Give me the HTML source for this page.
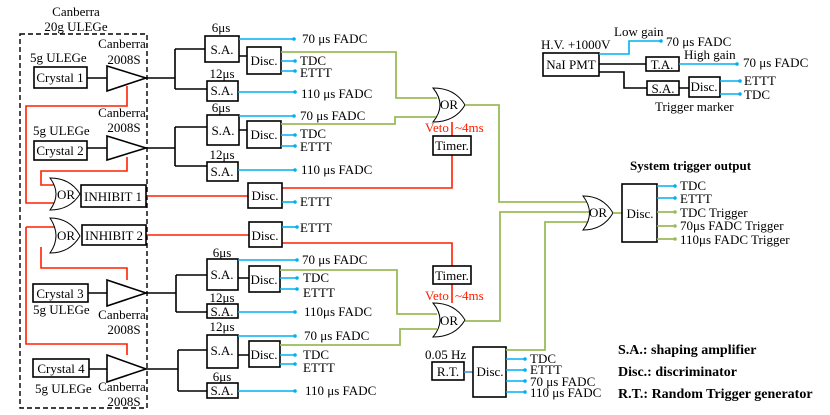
<!DOCTYPE html>
<html><head><meta charset="utf-8"><style>
html,body{margin:0;padding:0;background:#fff;}
svg{display:block;}
text{font-family:"Liberation Serif",serif;font-size:13px;fill:#000;}
.b{fill:none;stroke:#000;stroke-width:1.6;}
.bx{fill:#fff;stroke:#000;stroke-width:1.6;}
.bl{fill:none;stroke:#00b0f0;stroke-width:1.6;}
.g{fill:none;stroke:#9bbb59;stroke-width:1.8;}
.r{fill:none;stroke:#ff2000;stroke-width:1.6;}
.d{fill:#00b0f0;}
.dg{fill:#9bbb59;}
.or{fill:#fff;stroke:#000;stroke-width:1;}
.lg{font-weight:bold;font-size:14px;}
</style></head><body>
<svg width="830" height="415" viewBox="0 0 830 415" xmlns="http://www.w3.org/2000/svg">
<rect x="20" y="34" width="127" height="374" fill="none" stroke="#000" stroke-width="1.4" stroke-dasharray="5,3"/>
<text x="76" y="16" text-anchor="middle">Canberra</text>
<text x="76" y="31" text-anchor="middle">20g ULEGe</text>

<path class="r" d="M127,86 V106 H26 V203 H55"/>
<path class="r" d="M127,157 V171 H41 V185 H55"/>
<path class="r" d="M26,227 H55 M26,227 V344 H127 V355"/>
<path class="r" d="M41,247 V268 H127 V280"/>
<path class="r" d="M146,196 H248 M282,188 H452 V155 M452,122 V136"/>
<path class="r" d="M146,235 H249 M282,243 H452 V266 M452,284 V303"/>

<text x="30" y="62">5g ULEGe</text>
<rect class="bx" x="34" y="67" width="53" height="21"/><text x="60" y="82" text-anchor="middle">Crystal 1</text>
<path class="b" d="M87,78 H107"/>
<path class="bx" d="M107,66 L146,78 L107,91 Z"/>
<text x="122" y="48" text-anchor="middle">Canberra</text><text x="124" y="64" text-anchor="middle">2008S</text>
<path class="b" d="M146,78 H175 M175,49 V89 M175,49 H205 M175,89 H207 M239,56 H247"/>
<rect class="bx" x="205" y="36" width="34" height="26"/><text x="222" y="54" text-anchor="middle">S.A.</text><text x="221" y="32" text-anchor="middle">6μs</text>
<rect class="bx" x="207" y="81" width="31" height="20"/><text x="222" y="95" text-anchor="middle">S.A.</text><text x="222" y="78" text-anchor="middle">12μs</text>
<rect class="bx" x="247" y="47" width="34" height="27"/><text x="264" y="65" text-anchor="middle">Disc.</text>
<path class="bl" d="M239,39 H293 M281,61 H295 M281,71 H295 M238,92 H295"/>
<circle class="d" cx="294" cy="39" r="1.8"/><circle class="d" cx="295" cy="61" r="1.8"/><circle class="d" cx="295" cy="71" r="1.8"/><circle class="d" cx="295" cy="92" r="1.8"/>
<text x="302" y="43">70 μs FADC</text><text x="300" y="65">TDC</text><text x="300" y="77">ETTT</text><text x="301" y="98">110 μs FADC</text>
<path class="g" d="M281,52 H396 V98 H437"/>

<text x="33" y="135">5g ULEGe</text>
<rect class="bx" x="34" y="141" width="53" height="19"/><text x="60" y="155" text-anchor="middle">Crystal 2</text>
<path class="b" d="M87,148 H107"/>
<path class="bx" d="M107,136 L146,148 L107,160 Z"/>
<text x="122" y="117" text-anchor="middle">Canberra</text><text x="124" y="132" text-anchor="middle">2008S</text>
<path class="b" d="M146,148 H175 M175,127 V166 M175,127 H207 M175,166 H207 M239,130 H247"/>
<rect class="bx" x="207" y="115" width="32" height="30"/><text x="223" y="135" text-anchor="middle">S.A.</text><text x="221" y="112" text-anchor="middle">6μs</text>
<rect class="bx" x="207" y="162" width="31" height="19"/><text x="222" y="176" text-anchor="middle">S.A.</text><text x="222" y="159" text-anchor="middle">12μs</text>
<rect class="bx" x="247" y="121" width="34" height="27"/><text x="264" y="139" text-anchor="middle">Disc.</text>
<path class="bl" d="M239,116 H293 M281,135 H295 M281,146 H295 M238,170 H295"/>
<circle class="d" cx="294" cy="116" r="1.8"/><circle class="d" cx="295" cy="135" r="1.8"/><circle class="d" cx="295" cy="146" r="1.8"/><circle class="d" cx="295" cy="170" r="1.8"/>
<text x="300" y="120">70 μs FADC</text><text x="300" y="138">TDC</text><text x="300" y="151">ETTT</text><text x="301" y="174">110 μs FADC</text>
<path class="g" d="M281,124 H395 V117 H437"/>

<path class="or" d="M50,178 Q70,178 80,194 Q70,210 50,210 Q62,194 50,178 Z"/><text x="66" y="199" text-anchor="middle">OR</text>
<rect class="bx" x="81" y="185" width="65" height="22"/><text x="113" y="201" text-anchor="middle">INHIBIT 1</text>
<rect class="bx" x="248" y="183" width="34" height="25"/><text x="265" y="200" text-anchor="middle">Disc.</text>
<path class="bl" d="M282,202 H295"/><circle class="d" cx="295" cy="202" r="1.8"/><text x="300" y="206">ETTT</text>

<path class="or" d="M50,218 Q70,218 80,236 Q70,253 50,253 Q62,236 50,218 Z"/><text x="66" y="240" text-anchor="middle">OR</text>
<rect class="bx" x="82" y="225" width="64" height="20"/><text x="114" y="240" text-anchor="middle">INHIBIT 2</text>
<rect class="bx" x="249" y="222" width="33" height="25"/><text x="265" y="240" text-anchor="middle">Disc.</text>
<path class="bl" d="M282,227 H297"/><circle class="d" cx="297" cy="227" r="1.8"/><text x="300" y="232">ETTT</text>

<rect class="bx" x="33" y="284" width="55" height="18"/><text x="60" y="298" text-anchor="middle">Crystal 3</text>
<text x="33" y="314">5g ULEGe</text>
<path class="b" d="M88,293 H107"/>
<path class="bx" d="M107,280 L146,293 L107,306 Z"/>
<text x="122" y="319" text-anchor="middle">Canberra</text><text x="124" y="334" text-anchor="middle">2008S</text>
<path class="b" d="M146,293 H176 M176,275 V312 M176,275 H207 M176,312 H207 M238,278 H249"/>
<rect class="bx" x="207" y="259" width="31" height="31"/><text x="222" y="279" text-anchor="middle">S.A.</text><text x="222" y="257" text-anchor="middle">6μs</text>
<rect class="bx" x="207" y="304" width="31" height="14"/><text x="222" y="316" text-anchor="middle">S.A.</text><text x="222" y="302" text-anchor="middle">12μs</text>
<rect class="bx" x="249" y="266" width="31" height="26"/><text x="264" y="284" text-anchor="middle">Disc.</text>
<path class="bl" d="M238,260 H297 M280,278 H297 M280,289 H297 M238,312 H295"/>
<circle class="d" cx="297" cy="260" r="1.8"/><circle class="d" cx="297" cy="278" r="1.8"/><circle class="d" cx="297" cy="289" r="1.8"/><circle class="d" cx="295" cy="312" r="1.8"/>
<text x="302" y="264">70 μs FADC</text><text x="303" y="282">TDC</text><text x="303" y="297">ETTT</text><text x="304" y="316">110μs FADC</text>
<path class="g" d="M280,270 H397 V314 H437"/>

<rect class="bx" x="33" y="359" width="56" height="18"/><text x="61" y="373" text-anchor="middle">Crystal 4</text>
<text x="35" y="393">5g ULEGe</text>
<path class="b" d="M89,369 H107"/>
<path class="bx" d="M107,355 L146,369 L107,382 Z"/>
<text x="122" y="391" text-anchor="middle">Canberra</text><text x="124" y="406" text-anchor="middle">2008S</text>
<path class="b" d="M146,369 H178 M178,350 V391 M178,350 H207 M178,391 H207 M238,355 H249"/>
<rect class="bx" x="207" y="335" width="31" height="33"/><text x="222" y="355" text-anchor="middle">S.A.</text><text x="222" y="331" text-anchor="middle">12μs</text>
<rect class="bx" x="207" y="383" width="31" height="15"/><text x="222" y="395" text-anchor="middle">S.A.</text><text x="222" y="381" text-anchor="middle">6μs</text>
<rect class="bx" x="249" y="341" width="31" height="26"/><text x="264" y="359" text-anchor="middle">Disc.</text>
<path class="bl" d="M238,336 H295 M280,355 H295 M280,364 H295 M238,391 H295"/>
<circle class="d" cx="295" cy="336" r="1.8"/><circle class="d" cx="295" cy="355" r="1.8"/><circle class="d" cx="295" cy="364" r="1.8"/><circle class="d" cx="295" cy="391" r="1.8"/>
<text x="304" y="340">70 μs FADC</text><text x="303" y="359">TDC</text><text x="303" y="372">ETTT</text><text x="305" y="395">110 μs FADC</text>
<path class="g" d="M280,345 H400 V329 H437"/>

<path class="or" d="M433,88 Q455,88 465,105 Q455,122 433,122 Q447,105 433,88 Z"/><text x="449" y="109" text-anchor="middle">OR</text>
<text x="425" y="132" style="fill:#ff2000">Veto</text><text x="455" y="132" style="fill:#ff2000">~4ms</text>
<rect class="bx" x="433" y="136" width="38" height="19"/><text x="452" y="150" text-anchor="middle">Timer.</text>
<path class="g" d="M465,105 H499 V202 H588"/>

<rect class="bx" x="433" y="266" width="38" height="18"/><text x="452" y="280" text-anchor="middle">Timer.</text>
<text x="425" y="300" style="fill:#ff2000">Veto</text><text x="455" y="300" style="fill:#ff2000">~4ms</text>
<path class="or" d="M433,303 Q455,303 465,320 Q455,337 433,337 Q447,320 433,303 Z"/><text x="449" y="325" text-anchor="middle">OR</text>
<path class="g" d="M465,321 H500 V212 H590"/>

<text x="425" y="359">0.05 Hz</text>
<rect class="bx" x="432" y="362" width="32" height="18"/><text x="448" y="376" text-anchor="middle">R.T.</text>
<path d="M464,372 H473" stroke="#4a90d0" stroke-width="1.6"/>
<rect class="bx" x="473" y="347" width="33" height="50"/><text x="490" y="376" text-anchor="middle">Disc.</text>
<path class="g" d="M506,350 H545 V222 H588"/>
<path class="bl" d="M506,359 H525 M506,370 H525 M506,381 H525 M506,392 H525"/>
<circle class="d" cx="525" cy="359" r="1.8"/><circle class="d" cx="525" cy="370" r="1.8"/><circle class="d" cx="525" cy="381" r="1.8"/><circle class="d" cx="525" cy="392" r="1.8"/>
<text x="530" y="363">TDC</text><text x="530" y="374">ETTT</text><text x="530" y="386">70 μs FADC</text><text x="530" y="397">110 μs FADC</text>

<path class="or" d="M583,196 Q603,196 613,213 Q603,230 583,230 Q596,213 583,196 Z"/><text x="598" y="217" text-anchor="middle">OR</text>
<path class="g" d="M613,213 H622"/>
<rect class="bx" x="622" y="184" width="35" height="58"/><text x="640" y="218" text-anchor="middle">Disc.</text>
<path class="bl" d="M657,186 H675 M657,198 H675"/>
<circle class="d" cx="675" cy="186" r="1.8"/><circle class="d" cx="675" cy="198" r="1.8"/>
<path class="g" d="M657,212 H675 M657,226 H675 M657,239 H675"/>
<circle class="dg" cx="675" cy="212" r="1.8"/><circle class="dg" cx="675" cy="226" r="1.8"/><circle class="dg" cx="675" cy="239" r="1.8"/>
<text x="680" y="190">TDC</text><text x="680" y="203">ETTT</text><text x="680" y="217">TDC Trigger</text><text x="680" y="230">70μs FADC Trigger</text><text x="680" y="244">110μs FADC Trigger</text>
<text x="630" y="170" class="lg" style="font-size:13px">System trigger output</text>

<text x="541" y="49">H.V. +1000V</text>
<rect class="bx" x="543" y="53" width="56" height="23"/><text x="571" y="69" text-anchor="middle">NaI PMT</text>
<text x="614" y="36">Low gain</text>
<path class="bl" d="M599,54 H629 V41 H661"/><circle class="d" cx="661" cy="41" r="1.8"/><text x="666" y="46">70 μs FADC</text>
<path class="b" d="M599,64 H646"/>
<rect class="bx" x="646" y="57" width="33" height="14"/><text x="662" y="69" text-anchor="middle">T.A.</text>
<text x="684" y="59">High gain</text>
<path class="bl" d="M679,64 H737"/><circle class="d" cx="737" cy="64" r="1.8"/><text x="743" y="67">70 μs FADC</text>
<path class="b" d="M599,72 H624 V88 H647 M679,88 H689"/>
<rect class="bx" x="647" y="81" width="32" height="14"/><text x="663" y="93" text-anchor="middle">S.A.</text>
<rect class="bx" x="689" y="77" width="31" height="20"/><text x="704" y="91" text-anchor="middle">Disc.</text>
<path class="bl" d="M720,81 H740 M720,94 H740"/><circle class="d" cx="740" cy="81" r="1.8"/><circle class="d" cx="740" cy="94" r="1.8"/>
<text x="744" y="85">ETTT</text><text x="744" y="99">TDC</text>
<text x="655" y="111">Trigger marker</text>

<text x="618" y="354" class="lg">S.A.: shaping amplifier</text>
<text x="618" y="376" class="lg">Disc.: discriminator</text>
<text x="618" y="398" class="lg">R.T.: Random Trigger generator</text>
</svg>
</body></html>
